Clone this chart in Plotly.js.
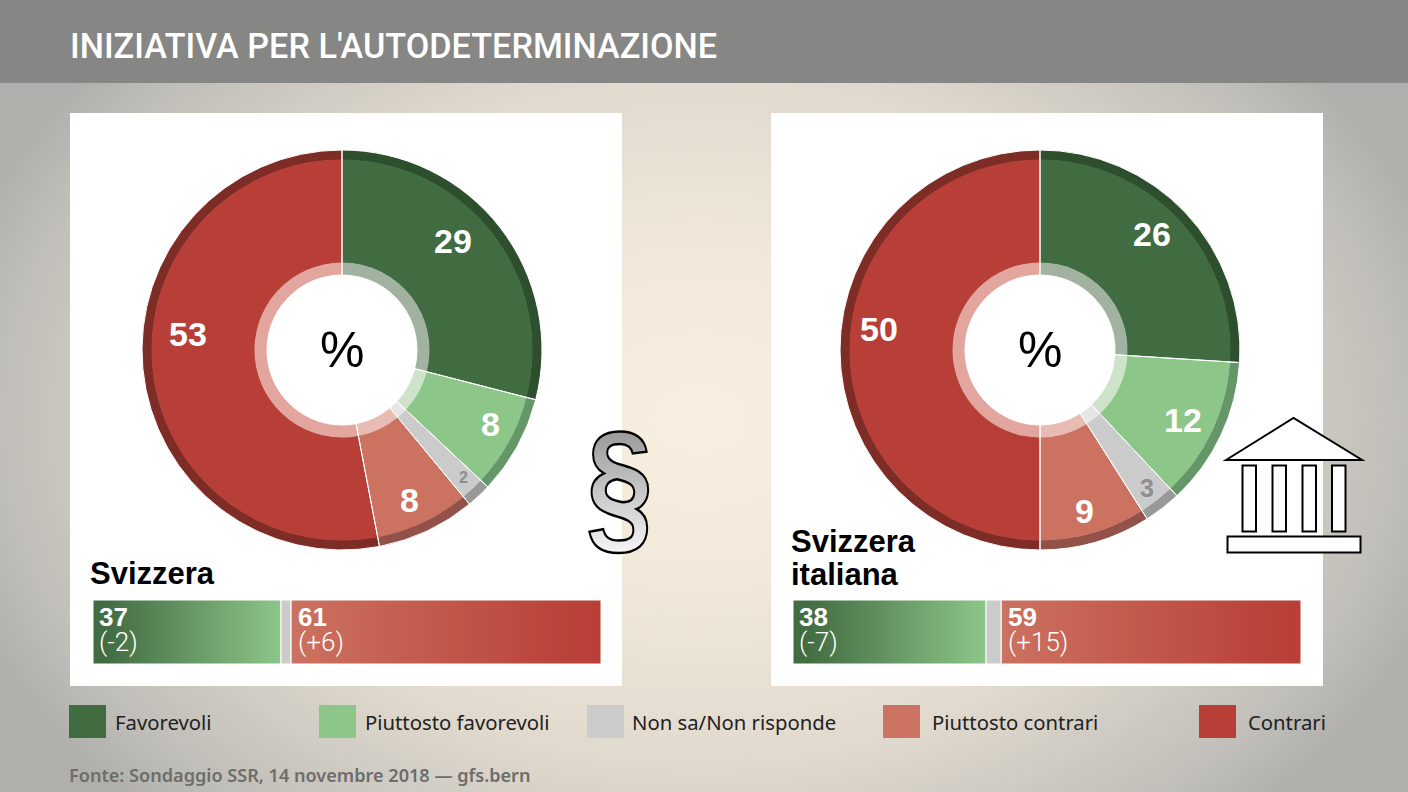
<!DOCTYPE html>
<html><head><meta charset="utf-8">
<script src="https://cdn.plot.ly/plotly-3.0.1.min.js"></script>
<style>
html,body{margin:0;padding:0;width:1408px;height:792px;overflow:hidden;
background:radial-gradient(ellipse 780px 560px at 700px 420px,#f8efe1 0%,#f1e8da 30%,#e0d9cd 62%,#c0beb9 90%,#b0afab 100%);}
#chart{width:1408px;height:792px;}
</style></head><body>
<div id="chart"></div>
<script>
var titleText = "INIZIATIVA PER L'AUTODETERMINAZIONE";
var sourceText = "Fonte: Sondaggio SSR, 14 novembre 2018 — gfs.bern";
var categories = ["Favorevoli","Piuttosto favorevoli","Non sa/Non risponde","Piuttosto contrari","Contrari"];
var svizzeraValues = [29,8,2,8,53];
var italianaValues = [26,12,3,9,50];
var svizzeraTotals = [37,2,61];
var italianaTotals = [38,3,59];
var svizzeraDeltas = ["(-2)","(+6)"];
var italianaDeltas = ["(-7)","(+15)"];
var mainColors = ["#416b41","#8dc689","#cbcbcb","#cc7260","#b83f37"];
var rimColors = ["#2d4f2d","#64966a","#999999","#92524a","#7e2c26"];
var ringColors = ["#a1b3a0","#cde4cb","#e5e5e5","#e8bcb2","#e2a69e"];
var labelColors = ["#ffffff","#ffffff","#8e8e8e","#ffffff","#ffffff"];
var clearColors = ["rgba(0,0,0,0)","rgba(0,0,0,0)","rgba(0,0,0,0)","rgba(0,0,0,0)","rgba(0,0,0,0)"];

var W=1408,H=792;
function px(x){return x/W;}
function py(y){return 1-y/H;}
function pie(cx,cy,r,vals,cols,hole,name,lw){
  return {type:'pie',values:vals,labels:categories,sort:false,direction:'clockwise',rotation:0,
    hole:hole,textinfo:'none',hoverinfo:'label+value',showlegend:false,name:name,
    marker:{colors:cols,line:{color:'#ffffff',width:lw}},
    domain:{x:[px(cx-r),px(cx+r)],y:[py(cy+r),py(cy-r)]}};
}
function donut(cx,cy,vals,name){
  return [pie(cx,cy,200,vals,rimColors,190/200,name,0),
          pie(cx,cy,190.5,vals,mainColors,87/190.5,name,0),
          pie(cx,cy,87.5,vals,ringColors,75/87.5,name,0),
          pie(cx,cy,200,vals,clearColors,75/200,name,1)];
}
function stackTrace(x0,x1,c,axis){
  return {type:'scatter',mode:'lines',x:[x0,x1,x1,x0,x0],y:[0,0,1,1,0],fill:'toself',
    line:{width:1,color:'#ffffff'},hoverinfo:'skip',showlegend:false,xaxis:'x'+axis,yaxis:'y'+axis,
    fillgradient:{type:'horizontal',colorscale:c}};
}
var greenScale=[[0,'#416b41'],[0.08,'#436d43'],[1,'#8dc689']];
var redScale=[[0,'#cc7260'],[0.85,'#ba443b'],[1,'#b83f37']];
var greyScale=[[0,'#cbcbcb'],[1,'#cbcbcb']];
function stack(tot,axis){
  return [stackTrace(0,tot[0],greenScale,axis),
          stackTrace(tot[0],tot[0]+tot[1],greyScale,axis),
          stackTrace(tot[0]+tot[1],tot[0]+tot[1]+tot[2],redScale,axis)];
}
var traces=[]
 .concat(stack(svizzeraTotals,''))
 .concat(stack(italianaTotals,'2'))
 .concat(donut(342,350,svizzeraValues,'Svizzera'))
 .concat(donut(1040,350,italianaValues,'Svizzera italiana'));

function rect(x0,y0,x1,y1,fill,lw,layer){
  return {type:'rect',xref:'paper',yref:'paper',x0:px(x0),x1:px(x1),y0:py(y1),y1:py(y0),
    fillcolor:fill,line:{width:lw||0,color:'#000'},layer:layer||'below'};
}
var shapes=[rect(0,0,1408,83,'#868684'),rect(70,113,622,686,'#ffffff'),rect(771,113,1323,686,'#ffffff')];
var swatchX=[69,319,587,883,1199];
swatchX.forEach(function(x,i){shapes.push(rect(x,705,x+37,738,mainColors[i]));});
var tri='M '+px(1226)+' '+py(460)+' L '+px(1293.5)+' '+py(418)+' L '+px(1362)+' '+py(460)+' Z';
shapes.push({type:'path',xref:'paper',yref:'paper',path:tri,fillcolor:'#fff',line:{color:'#000',width:2},layer:'above'});
[1242.5,1272.5,1302.5,1332].forEach(function(x){shapes.push(rect(x,465.5,x+13.5,531.5,'#fff',2,'above'));});
shapes.push(rect(1227.5,536.5,1360.5,552.5,'#fff',2,'above'));

function ann(x,y,text,size,color,family,anchor,bold,weight){
  var f={size:size,color:color,family:family};
  if(weight)f.weight=weight;
  return {xref:'paper',yref:'paper',x:px(x),y:py(y),text:bold?'<b>'+text+'</b>':text,showarrow:false,
    xanchor:anchor||'center',yanchor:'middle',align:anchor||'center',borderpad:0,font:f};
}
var SANS='Liberation Sans',UI='Noto Sans';
var anns=[ann(69,46,titleText,34.2,'#ffffff','Roboto','left',false,500)];
var labL=[[453,241],[490,424],[463,478],[409,500],[188,334]];
var labR=[[1152,234],[1183,420],[1147,488],[1084,511],[879,329]];
var sizes=[34,34,16,34,34], sizesR=[34,34,25,34,34];
svizzeraValues.forEach(function(v,i){anns.push(ann(labL[i][0],labL[i][1],String(v),sizes[i],labelColors[i],SANS,'center',true));});
italianaValues.forEach(function(v,i){anns.push(ann(labR[i][0],labR[i][1],String(v),sizesR[i],labelColors[i],SANS,'center',true));});
anns.push(ann(342,350,'%',50,'#000',SANS));
anns.push(ann(1040,350,'%',50,'#000',SANS));
anns.push(ann(89,573,'Svizzera',31,'#000',SANS,'left',true));
anns.push(ann(790,541,'Svizzera',31,'#000',SANS,'left',true));
anns.push(ann(790,574,'italiana',31,'#000',SANS,'left',true));
var LT='Roboto';
anns.push(ann(98,617,String(svizzeraTotals[0]),26,'#fff',SANS,'left',true));
anns.push(ann(98,642,svizzeraDeltas[0],26,'#fff',LT,'left',false,300));
anns.push(ann(297,617,String(svizzeraTotals[2]),26,'#fff',SANS,'left',true));
anns.push(ann(297,642,svizzeraDeltas[1],26,'#fff',LT,'left',false,300));
anns.push(ann(798,617,String(italianaTotals[0]),26,'#fff',SANS,'left',true));
anns.push(ann(798,642,italianaDeltas[0],26,'#fff',LT,'left',false,300));
anns.push(ann(1007,617,String(italianaTotals[2]),26,'#fff',SANS,'left',true));
anns.push(ann(1007,642,italianaDeltas[1],26,'#fff',LT,'left',false,300));
var legX=[114,364,631,931,1247];
categories.forEach(function(c,i){anns.push(ann(legX[i],722,c,20.3,'#222',UI,'left'));});
anns.push(ann(68,775,sourceText,18.1,'#6d6d6b',UI,'left',false,600));
anns.push(ann(619.5,484,'§',150,'#bbbbbb',SANS,'center',true));

var axisOff={visible:false,fixedrange:true,showgrid:false,zeroline:false};
var layout={width:W,height:H,margin:{l:0,r:0,t:0,b:0,pad:0},paper_bgcolor:'rgba(0,0,0,0)',plot_bgcolor:'rgba(0,0,0,0)',
  showlegend:false,shapes:shapes,annotations:anns,hovermode:false,
  xaxis:Object.assign({domain:[px(93),px(601)],range:[0,100]},axisOff),
  yaxis:Object.assign({domain:[py(664),py(600)],range:[0,1]},axisOff),
  xaxis2:Object.assign({domain:[px(793),px(1301)],range:[0,100]},axisOff),
  yaxis2:Object.assign({domain:[py(664),py(600)],range:[0,1]},axisOff)};
Plotly.newPlot('chart',traces,layout,{displayModeBar:false,staticPlot:true}).then(function(gd){
  var svg=gd.querySelector('svg.main-svg');
  var ns='http://www.w3.org/2000/svg';
  var defs=document.createElementNS(ns,'defs');
  defs.innerHTML='<linearGradient id="sect" x1="0" y1="0" x2="0" y2="1"><stop offset="0.1" stop-color="#8f8f8f"/><stop offset="0.9" stop-color="#f4f4f4"/></linearGradient>';
  svg.insertBefore(defs,svg.firstChild);
  gd.querySelectorAll('.annotation-text').forEach(function(t){
    if(t.textContent==='§'){
      t.style.fill='url(#sect)';t.style.stroke='#000';t.style.strokeWidth='2.5px';
      t.style.transformBox='fill-box';t.style.transformOrigin='center';t.style.transform='scaleX(0.8)';
      t.querySelectorAll('*').forEach(function(c){c.style.fill='url(#sect)';});
    }
  });
});
</script>
</body></html>
